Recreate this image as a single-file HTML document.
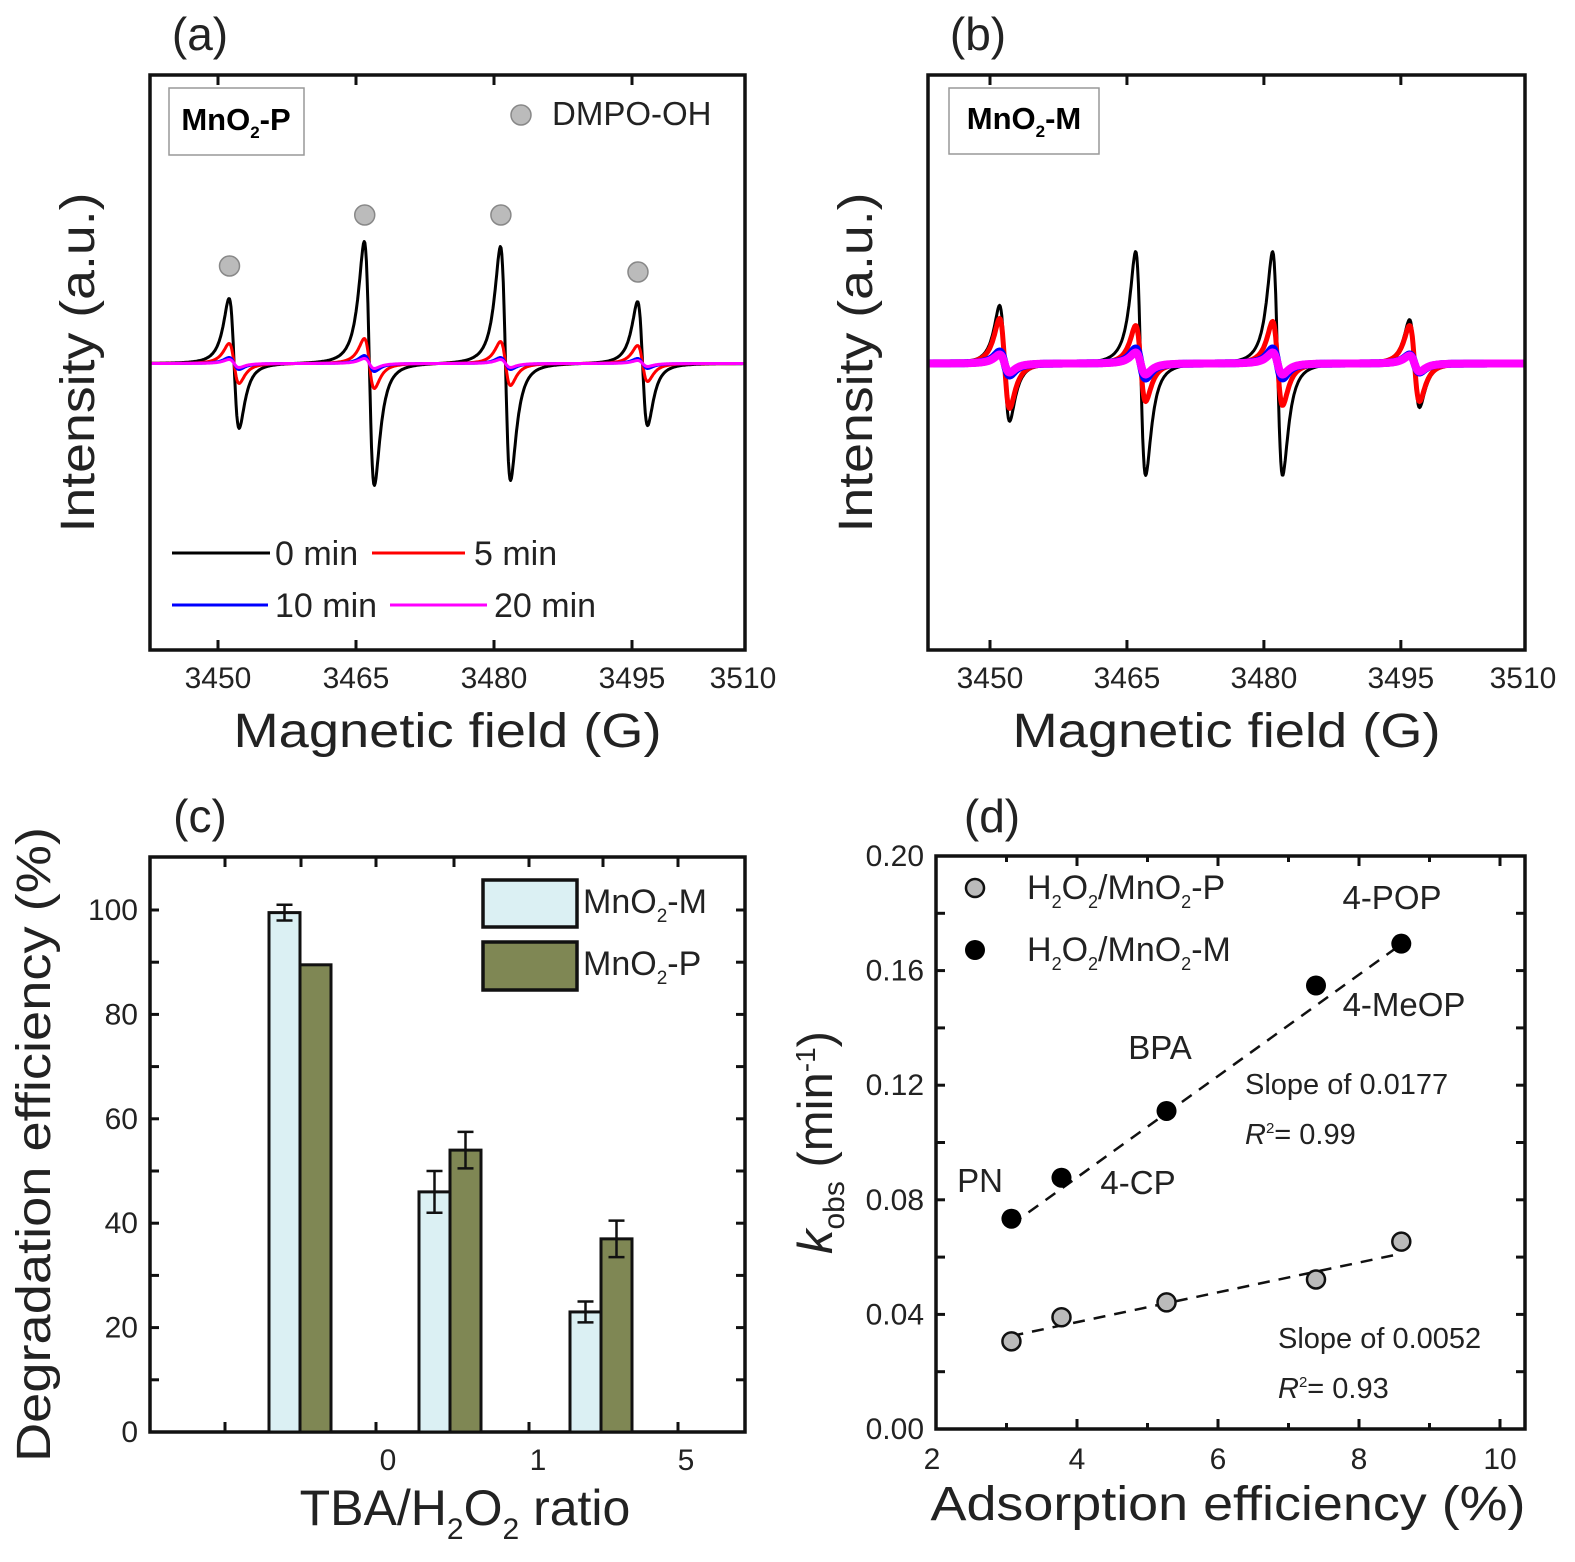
<!DOCTYPE html>
<html><head><meta charset="utf-8"><style>
html,body{margin:0;padding:0;background:#fff}
svg{display:block;font-family:"Liberation Sans",Arial,sans-serif}
</style></head><body>
<svg id="fig" width="1575" height="1562" viewBox="0 0 1575 1562" xmlns="http://www.w3.org/2000/svg">
<rect width="1575" height="1562" fill="#fff"/>
<g id="pa"></g>
<g id="pb"></g>
<g id="pc"></g>
<g id="pd"></g>
</svg>
<script>
// ---- EPR data (panels a, b) ----
const eprTicks = [3450, 3465, 3480, 3495, 3510];
const linesA = [3451.75, 3466.45, 3481.25, 3496.15];
const linesB = [3451.6, 3466.5, 3481.5, 3496.5];
const ampA_0 = [65, 122, 117, 62];
const ampA_5 = [20, 25, 22, 18];
const ampA_10 = [6, 8, 6, 5];
const ampA_20 = [4, 5, 4, 3];
const ampB_0 = [58, 112, 112, 44];
const ampB_5 = [45, 38, 42, 38];
const ampB_10 = [12, 15, 15, 9];
const ampB_20 = [9, 11, 11, 8];
// ---- panel c ----
const ratioLabels = ["0", "1", "5"];
const barM = [99.5, 46, 23];
const errM = [1.5, 4, 2];
const barP = [89.5, 54, 37];
const errP = [0, 3.5, 3.5];
const cTicks = [0, 20, 40, 60, 80, 100];
// ---- panel d ----
const adsP = [3.07, 3.78, 5.27, 7.39, 8.6];
const kP = [0.0306, 0.039, 0.0442, 0.0522, 0.0654];
const adsM = [3.07, 3.78, 5.27, 7.39, 8.6];
const kM = [0.0734, 0.0877, 0.111, 0.1548, 0.1694];
const fitM = [0.0177, 0.0170];
const fitP = [0.0052, 0.0165];
const dXTicks = [2, 4, 6, 8, 10];
const dYTicks = [0.00, 0.04, 0.08, 0.12, 0.16, 0.20];
const compoundLabels = ["PN", "4-CP", "BPA", "4-MeOP", "4-POP"];

const NS = "http://www.w3.org/2000/svg";
function mk(parent, tag, attrs, text) {
  const e = document.createElementNS(NS, tag);
  for (const k in attrs) e.setAttribute(k, attrs[k]);
  if (text !== undefined) e.textContent = text;
  parent.appendChild(e);
  return e;
}
function txt(parent, x, y, s, size, name, extra) {
  const a = {x: x, y: y, 'font-size': size, fill: '#222', 'text-anchor': 'middle'};
  if (extra) for (const k in extra) a[k] = extra[k];
  const t = mk(parent, 'text', a);
  t.innerHTML = s;
  
  
  return t;
}
function frame(g, x0, y0, x1, y1, name) {
  const r = mk(g, 'rect', {x: x0, y: y0, width: x1 - x0, height: y1 - y0, fill: 'none', stroke: '#111', 'stroke-width': 3.5});
  
  
}

function eprPanel(g, L, R, T, B, g0px, pxPerG, lines, amps, widths, colors, letter) {
  const base = (T + B) / 2 + 1;
  const sx = v => g0px + (v - 3450) * pxPerG;
  const xmin = 3450 - (g0px - L) / pxPerG, xmax = 3450 + (R - g0px) / pxPerG;
  const w = 0.95;
  amps.forEach((amp, si) => {
    let d = '';
    for (let f = xmin; f <= xmax; f += 0.08) {
      let y = 0;
      lines.forEach((c, i) => {
        const u = (f - c) / w;
        y += -amp[i] / 0.6495 * 2 * u / Math.pow(1 + u * u, 2);
      });
      d += (d ? 'L' : 'M') + sx(f).toFixed(1) + ',' + (base - y).toFixed(1);
    }
    const p = mk(g, 'path', {d: d, fill: 'none', stroke: colors[si], 'stroke-width': widths[si], 'stroke-linejoin': 'round'});
    
    
  });
  frame(g, L, T, R, B, 'plot-frame');
  eprTicks.forEach(t => {
    const x = sx(t);
    if (x > L + 2 && x < R - 2) {
      mk(g, 'line', {x1: x, y1: B, x2: x, y2: B - 10, stroke: '#111', 'stroke-width': 3});
      mk(g, 'line', {x1: x, y1: T, x2: x, y2: T + 10, stroke: '#111', 'stroke-width': 3});
    }
    txt(g, Math.min(x, R - 2), B + 38, String(t), 30, 'x-tick-label');
  });
  txt(g, (L + R) / 2, B + 97, 'Magnetic field (G)', 48, 'x-axis-title', {textLength: 428, lengthAdjust: 'spacingAndGlyphs'});
  txt(g, L - 72, (T + B) / 2, 'Intensity (a.u.)', 48, 'y-axis-title', {transform: 'rotate(-90 ' + (L - 72) + ' ' + ((T + B) / 2) + ')', dy: 16, textLength: 340, lengthAdjust: 'spacingAndGlyphs'});
  txt(g, L + 50, 50, letter, 46, 'panel-label');
}

// Panel a
const pa = document.getElementById('pa');
eprPanel(pa, 150, 745, 75, 650, 218, 9.2, linesA, [ampA_0, ampA_5, ampA_10, ampA_20], [3, 3, 3, 3], ['#000', '#f00', '#00f', '#f0f'], '(a)');
(function () {
  const b = mk(pa, 'rect', {x: 169, y: 88, width: 135, height: 67, fill: '#fff', stroke: '#999', 'stroke-width': 1.5});
   
  txt(pa, 236, 130, 'MnO<tspan font-size="17" dy="8">2</tspan><tspan dy="-8">-P</tspan>', 31, 'sample-label', {'font-weight': 'bold', fill: '#000'});
  const c = mk(pa, 'circle', {cx: 521, cy: 115, r: 10, fill: '#bbb', stroke: '#888', 'stroke-width': 1.5});
   
  txt(pa, 552, 125, 'DMPO-OH', 33, 'dmpo-oh-legend-label', {'text-anchor': 'start'});
  const sx = v => 218 + (v - 3450) * 9.2;
  const heights = [266, 215, 215, 272];
  linesA.forEach((c0, i) => {
    const m = mk(pa, 'circle', {cx: sx(c0 - 0.5), cy: heights[i], r: 10, fill: '#bbb', stroke: '#888', 'stroke-width': 1.5});
     
  });
  const leg = [[172, 270, 553, '#000', '0 min', 275], [372, 465, 553, '#f00', '5 min', 474], [172, 268, 605, '#00f', '10 min', 275], [390, 487, 605, '#f0f', '20 min', 494]];
  leg.forEach(l => {
    const ln = mk(pa, 'line', {x1: l[0], y1: l[2], x2: l[1], y2: l[2], stroke: l[3], 'stroke-width': 3});
     
    txt(pa, l[5], l[2] + 12, l[4], 34, 'legend-entry', {'text-anchor': 'start'});
  });
})();

// Panel b
const pb = document.getElementById('pb');
eprPanel(pb, 928, 1525, 75, 650, 990, 9.13, linesB, [ampB_0, ampB_5, ampB_10, ampB_20], [3, 5, 8, 8], ['#000', '#f00', '#00f', '#f0f'], '(b)');
(function () {
  const b = mk(pb, 'rect', {x: 949, y: 88, width: 150, height: 66, fill: '#fff', stroke: '#999', 'stroke-width': 1.5});
   
  txt(pb, 1024, 129, 'MnO<tspan font-size="17" dy="8">2</tspan><tspan dy="-8">-M</tspan>', 31, 'sample-label', {'font-weight': 'bold', fill: '#000'});
})();

// Panel c
(function () {
  const g = document.getElementById('pc');
  const L = 150, R = 745, T = 857, B = 1432;
  const sy = v => B - v * 5.22;
  const groupX = [300, 450, 601];
  const bw = 31;
  frame(g, L, T, R, B, 'plot-frame');
  const tickX = [225, 301, 376, 454, 529, 603, 678];
  tickX.forEach(x => {
    mk(g, 'line', {x1: x, y1: T, x2: x, y2: T + 10, stroke: '#111', 'stroke-width': 3});
    mk(g, 'line', {x1: x, y1: B, x2: x, y2: B - 10, stroke: '#111', 'stroke-width': 3});
  });
  for (let v = 0; v <= 110; v += 10) {
    const y = sy(v);
    if (y < T + 3) continue;
    mk(g, 'line', {x1: L, y1: y, x2: L + 9, y2: y, stroke: '#111', 'stroke-width': 3});
    mk(g, 'line', {x1: R, y1: y, x2: R - 9, y2: y, stroke: '#111', 'stroke-width': 3});
  }
  cTicks.forEach(v => txt(g, L - 12, sy(v) + 10, String(v), 30, 'y-tick-label', {'text-anchor': 'end'}));
  const labelX = [388, 538, 686];
  ratioLabels.forEach((s, i) => txt(g, labelX[i], B + 38, s, 30, 'x-tick-label'));
  barM.forEach((v, i) => {
    const r = mk(g, 'rect', {x: groupX[i] - bw, y: sy(v), width: bw, height: B - sy(v), fill: '#dbf0f3', stroke: '#111', 'stroke-width': 3});
     
  });
  barP.forEach((v, i) => {
    const r = mk(g, 'rect', {x: groupX[i], y: sy(v), width: bw, height: B - sy(v), fill: '#7f8754', stroke: '#111', 'stroke-width': 3});
     
  });
  function err(cx, v, e) {
    if (!e) return;
    const p = mk(g, 'path', {d: 'M' + (cx - 8) + ',' + sy(v + e) + 'H' + (cx + 8) + 'M' + cx + ',' + sy(v + e) + 'V' + sy(v - e) + 'M' + (cx - 8) + ',' + sy(v - e) + 'H' + (cx + 8), stroke: '#111', 'stroke-width': 2.5, fill: 'none'});
     
  }
  barM.forEach((v, i) => err(groupX[i] - bw / 2, v, errM[i]));
  barP.forEach((v, i) => err(groupX[i] + bw / 2, v, errP[i]));
  const l1 = mk(g, 'rect', {x: 483, y: 880, width: 94, height: 47, fill: '#dbf0f3', stroke: '#111', 'stroke-width': 3.5});
   
  const l2 = mk(g, 'rect', {x: 483, y: 942, width: 94, height: 48, fill: '#7f8754', stroke: '#111', 'stroke-width': 3.5});
   
  txt(g, 583, 913, 'MnO<tspan font-size="19" dy="9">2</tspan><tspan dy="-9">-M</tspan>', 34, 'legend-entry', {'text-anchor': 'start'});
  txt(g, 583, 975, 'MnO<tspan font-size="19" dy="9">2</tspan><tspan dy="-9">-P</tspan>', 34, 'legend-entry', {'text-anchor': 'start'});
  txt(g, 465, B + 93, 'TBA/H<tspan font-size="30" dy="14">2</tspan><tspan dy="-14">O</tspan><tspan font-size="30" dy="14">2</tspan><tspan dy="-14"> ratio</tspan>', 50, 'x-axis-title');
  txt(g, 50, (T + B) / 2, 'Degradation efficiency (%)', 48, 'y-axis-title', {transform: 'rotate(-90 50 ' + ((T + B) / 2) + ')', textLength: 635, lengthAdjust: 'spacingAndGlyphs'});
  txt(g, 200, 832, '(c)', 46, 'panel-label');
})();

// Panel d
(function () {
  const g = document.getElementById('pd');
  const L = 936, R = 1525, T = 856, B = 1429;
  const sx = v => L + (v - 2) * 70.5;
  const sy = v => B - v / 0.2 * (B - T);
  frame(g, L, T, R, B, 'plot-frame');
  for (let v = 3; v <= 10; v += 1) {
    const x = sx(v);
    mk(g, 'line', {x1: x, y1: B, x2: x, y2: B - (v % 2 ? 6 : 10), stroke: '#111', 'stroke-width': 3});
    mk(g, 'line', {x1: x, y1: T, x2: x, y2: T + (v % 2 ? 6 : 10), stroke: '#111', 'stroke-width': 3});
  }
  for (let v = 0.02; v < 0.2; v += 0.02) {
    const y = sy(v);
    mk(g, 'line', {x1: L, y1: y, x2: L + 9, y2: y, stroke: '#111', 'stroke-width': 3});
    mk(g, 'line', {x1: R, y1: y, x2: R - 9, y2: y, stroke: '#111', 'stroke-width': 3});
  }
  dXTicks.forEach(v => txt(g, sx(v) - (v === 2 ? 4 : 0), B + 40, String(v), 30, 'x-tick-label'));
  dYTicks.forEach(v => txt(g, L - 12, sy(v) + 10, v.toFixed(2), 30, 'y-tick-label', {'text-anchor': 'end'}));
  function fit(f, x0, x1) {
    const p = mk(g, 'line', {x1: sx(x0), y1: sy(f[0] * x0 + f[1]), x2: sx(x1), y2: sy(f[0] * x1 + f[1]), stroke: '#111', 'stroke-width': 2.5, 'stroke-dasharray': '12 9'});
     
  }
  fit(fitM, adsM[0], adsM[adsM.length - 1]);
  fit(fitP, adsP[0], adsP[adsP.length - 1]);
  adsP.forEach((x, i) => {
    const c = mk(g, 'circle', {cx: sx(x), cy: sy(kP[i]), r: 9, fill: '#bbb', stroke: '#111', 'stroke-width': 2.5});
     
  });
  adsM.forEach((x, i) => {
    const c = mk(g, 'circle', {cx: sx(x), cy: sy(kM[i]), r: 10, fill: '#000'});
     
  });
  const lp = mk(g, 'circle', {cx: 975, cy: 888, r: 9, fill: '#bbb', stroke: '#111', 'stroke-width': 2.5});
   
  const lm = mk(g, 'circle', {cx: 975, cy: 950, r: 10, fill: '#000'});
   
  const sub = s => '<tspan font-size="18" dy="9">' + s + '</tspan><tspan dy="-9">';
  txt(g, 1027, 899, 'H' + sub('2') + 'O</tspan>' + sub('2') + '/MnO</tspan>' + sub('2') + '-P</tspan>', 34, 'legend-entry', {'text-anchor': 'start'});
  txt(g, 1027, 961, 'H' + sub('2') + 'O</tspan>' + sub('2') + '/MnO</tspan>' + sub('2') + '-M</tspan>', 34, 'legend-entry', {'text-anchor': 'start'});
  const labPos = [[980, 1192], [1138, 1194], [1160, 1059], [1404, 1016], [1392, 909]];
  compoundLabels.forEach((s, i) => txt(g, labPos[i][0], labPos[i][1], s, 33, 'compound-label'));
  txt(g, 1245, 1094, 'Slope of 0.0177', 29, 'slope-annotation-m', {'text-anchor': 'start'});
  txt(g, 1245, 1144, '<tspan font-style="italic">R</tspan><tspan font-size="15" dy="-11">2</tspan><tspan dy="11">= 0.99</tspan>', 29, 'r2-annotation-m', {'text-anchor': 'start'});
  txt(g, 1278, 1348, 'Slope of 0.0052', 29, 'slope-annotation-p', {'text-anchor': 'start'});
  txt(g, 1278, 1398, '<tspan font-style="italic">R</tspan><tspan font-size="15" dy="-11">2</tspan><tspan dy="11">= 0.93</tspan>', 29, 'r2-annotation-p', {'text-anchor': 'start'});
  txt(g, 1228, B + 91, 'Adsorption efficiency (%)', 48, 'x-axis-title', {textLength: 595, lengthAdjust: 'spacingAndGlyphs'});
  txt(g, 832, (T + B) / 2, '<tspan font-style="italic">k</tspan><tspan font-size="30" dy="12">obs</tspan><tspan dy="-12"> (min</tspan><tspan font-size="28" dy="-17">-1</tspan><tspan dy="17">)</tspan>', 49, 'y-axis-title', {transform: 'rotate(-90 832 ' + ((T + B) / 2) + ')'});
  txt(g, 992, 832, '(d)', 46, 'panel-label');
})();
</script>
</body></html>
